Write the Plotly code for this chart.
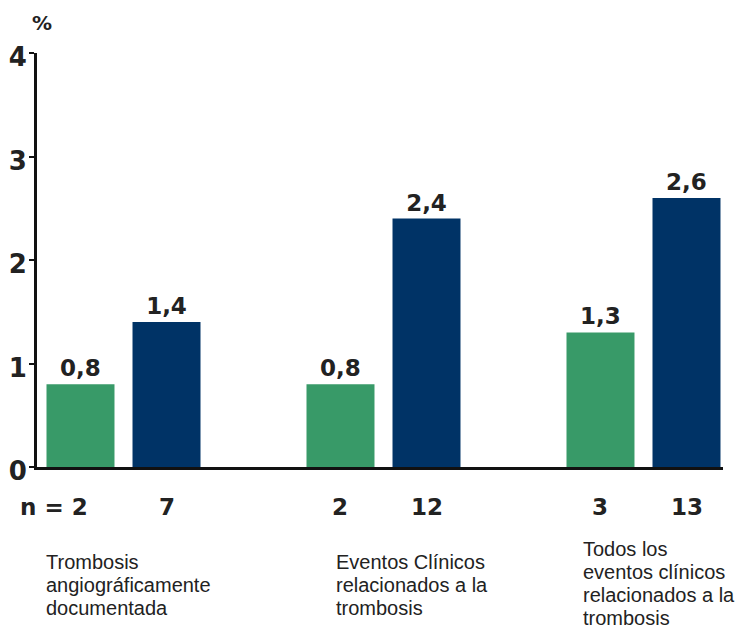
import plotly.graph_objects as go

# Data
groups = [["Trombosis", "angiográficamente", "documentada"],
          ["Eventos Clínicos", "relacionados a la", "trombosis"],
          ["Todos los", "eventos clínicos", "relacionados a la", "trombosis"]]
green_vals = [0.8, 0.8, 1.3]
navy_vals = [1.4, 2.4, 2.6]
green_n = ["n = 2", "2", "3"]
navy_n = ["7", "12", "13"]
y_ticks = [0, 1, 2, 3, 4]

GREEN = "#389a68"
NAVY = "#003366"
INK = "#222222"
SANS = "Liberation Sans, Arial, sans-serif"
BOLD = "DejaVu Sans, sans-serif"
Y_MAX = 4
PLOT_H = 414  # px height of the plotting area

offset = 0.1654
width = 0.2615
gx = list(range(len(groups)))

def fmt(v):
    return f"{v:.1f}".replace(".", ",")

label_font = dict(family=BOLD, size=23, color=INK, weight="bold")

fig = go.Figure()
for xs, vals, color in [([g - offset for g in gx], green_vals, GREEN),
                        ([g + offset for g in gx], navy_vals, NAVY)]:
    fig.add_trace(go.Bar(
        x=xs, y=vals, width=width,
        marker=dict(color=color, line=dict(width=0)),
        text=[fmt(v) for v in vals], textposition="outside",
        textfont=label_font, constraintext="none",
        cliponaxis=False, hoverinfo="skip"))

annotations = []
# sample sizes under each bar
n_y = -40 / PLOT_H
for g, (a, b) in enumerate(zip(green_n, navy_n)):
    if a.startswith("n"):
        annotations.append(dict(x=g - offset + 0.035, y=n_y, xref="x", yref="paper",
                                text=a, showarrow=False, xanchor="right", yanchor="middle",
                                font=label_font))
    else:
        annotations.append(dict(x=g - offset, y=n_y, xref="x", yref="paper",
                                text=a, showarrow=False, xanchor="center", yanchor="middle",
                                font=label_font))
    annotations.append(dict(x=g + offset, y=n_y, xref="x", yref="paper",
                            text=b, showarrow=False, xanchor="center", yanchor="middle",
                            font=label_font))

# group descriptions, one annotation per line
desc_x = [-0.305, 0.81, 1.759]
desc_first = [-95 / PLOT_H, -95 / PLOT_H, -82 / PLOT_H]
line_step = 23 / PLOT_H
for g, lines in enumerate(groups):
    for i, line in enumerate(lines):
        annotations.append(dict(x=desc_x[g], y=desc_first[g] - i * line_step,
                                xref="x", yref="paper",
                                text=line, showarrow=False, xanchor="left",
                                yanchor="middle", align="left",
                                font=dict(family=SANS, size=20, color=INK)))

# unit label above the value axis
annotations.append(dict(x=5 / 686, y=444 / PLOT_H, xref="paper", yref="paper",
                        text="%", showarrow=False, xanchor="center", yanchor="middle",
                        font=dict(family=BOLD, size=20, color=INK, weight="bold")))

fig.update_layout(
    width=736, height=629,
    margin=dict(l=37, r=13, t=53, b=162, autoexpand=False),
    paper_bgcolor="white", plot_bgcolor="white",
    showlegend=False,
    annotations=annotations,
    xaxis=dict(range=[-0.3327, 2.3058], showticklabels=False, ticks="",
               showgrid=False, zeroline=False, showline=True,
               linecolor="#111111", linewidth=3, automargin=False),
    yaxis=dict(range=[0, Y_MAX], tickvals=y_ticks, ticks="outside", ticklen=5,
               tickwidth=2, tickcolor="#111111",
               showgrid=False, zeroline=False, showline=True,
               linecolor="#111111", linewidth=3, automargin=False,
               ticklabelstandoff=-3, ticklabelshift=4,
               tickfont=dict(family=BOLD, size=26, color=INK, weight="bold")),
)

fig.write_html("out.html")
